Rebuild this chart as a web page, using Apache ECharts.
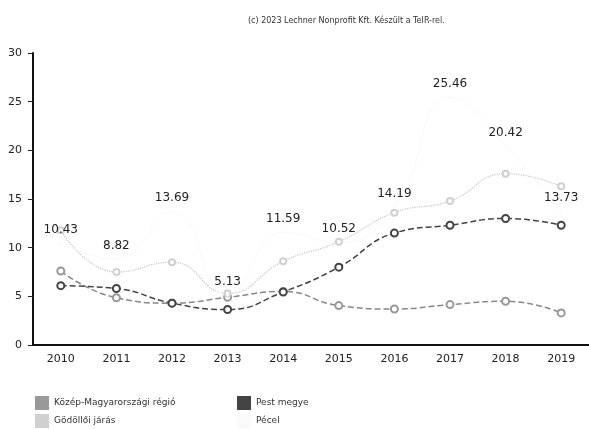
<!DOCTYPE html>
<html>
<head>
<meta charset="utf-8">
<script src="https://cdn.jsdelivr.net/npm/echarts@6/dist/echarts.min.js"></script>
<style>
  html, body { margin: 0; padding: 0; background: #fff; }
  #chart { width: 589px; height: 429px; }
</style>
</head>
<body>
<div id="chart"></div>
<script>
// évek és adatsorok
var years = ['2010', '2011', '2012', '2013', '2014', '2015', '2016', '2017', '2018', '2019'];
var kozepMo = [7.6, 4.85, 4.3, 4.9, 5.5, 4.05, 3.7, 4.15, 4.5, 3.3];
var pestMegye = [6.1, 5.8, 4.3, 3.65, 5.45, 8.0, 11.5, 12.3, 13.0, 12.3];
var godolloi = [11.8, 7.5, 8.5, 5.3, 8.6, 10.6, 13.6, 14.8, 17.6, 16.3];
var pecel = [10.43, 8.82, 13.69, 5.13, 11.59, 10.52, 14.19, 25.46, 20.42, 13.73];
var yTicks = [0, 5, 10, 15, 20, 25, 30];

var myChart = echarts.init(document.getElementById('chart'));
var font = 'DejaVu Sans';

function legendBox(names, left) {
    return {
        data: names,
        orient: 'vertical',
        left: left,
        top: 396,
        height: 40,
        padding: 0,
        itemWidth: 14,
        itemHeight: 14,
        itemGap: 4,
        icon: 'rect',
        textStyle: {fontSize: 9, color: '#333', fontFamily: font}
    };
}

myChart.setOption({
    animation: false,
    title: {
        text: '(c) 2023 Lechner Nonprofit Kft. Készült a TeIR-rel.',
        left: 243,
        top: 12,
        textStyle: {color: '#333', fontSize: 8, fontWeight: 'normal', fontFamily: font}
    },
    grid: {left: 33, right: 0, top: 53, bottom: 84},
    legend: [
        legendBox(['Közép-Magyarországi régió', 'Gödöllői járás'], 35),
        legendBox(['Pest megye', 'Pécel'], 237)
    ],
    xAxis: {
        type: 'category',
        data: years,
        boundaryGap: true,
        axisLine: {lineStyle: {color: '#111', width: 2}},
        axisTick: {alignWithLabel: true, length: 5, lineStyle: {color: '#222'}},
        axisLabel: {color: '#222', fontSize: 11, fontFamily: font, margin: 9}
    },
    yAxis: {
        type: 'value',
        min: yTicks[0],
        max: yTicks[yTicks.length - 1],
        interval: 5,
        axisLine: {show: true, lineStyle: {color: '#111', width: 2}},
        axisTick: {show: true, length: 5, lineStyle: {color: '#222'}},
        axisLabel: {color: '#222', fontSize: 11, fontFamily: font, margin: 11},
        splitLine: {show: false}
    },
    series: [{
        name: 'Közép-Magyarországi régió',
        type: 'line',
        smooth: true,
        data: kozepMo,
        symbol: 'emptyCircle',
        symbolSize: 7,
        itemStyle: {color: '#999'},
        lineStyle: {color: '#888', width: 1.5, type: 'dashed'}
    }, {
        name: 'Pest megye',
        type: 'line',
        smooth: true,
        data: pestMegye,
        symbol: 'emptyCircle',
        symbolSize: 7,
        itemStyle: {color: '#444', borderWidth: 2},
        lineStyle: {color: '#444', width: 1.5, type: [6, 3]}
    }, {
        name: 'Gödöllői járás',
        type: 'line',
        smooth: true,
        data: godolloi,
        symbol: 'emptyCircle',
        symbolSize: 6,
        itemStyle: {color: '#d0d0d0'},
        lineStyle: {color: '#c4c4c4', width: 1.2, type: 'dotted'}
    }, {
        name: 'Pécel',
        type: 'line',
        smooth: true,
        data: pecel,
        symbol: 'circle',
        symbolSize: 3,
        itemStyle: {color: '#fafafa'},
        lineStyle: {color: '#f8f8f8', width: 1},
        label: {
            show: true,
            position: 'top',
            distance: 6,
            color: '#222',
            fontSize: 12,
            fontFamily: font
        }
    }]
});
</script>
</body>
</html>
